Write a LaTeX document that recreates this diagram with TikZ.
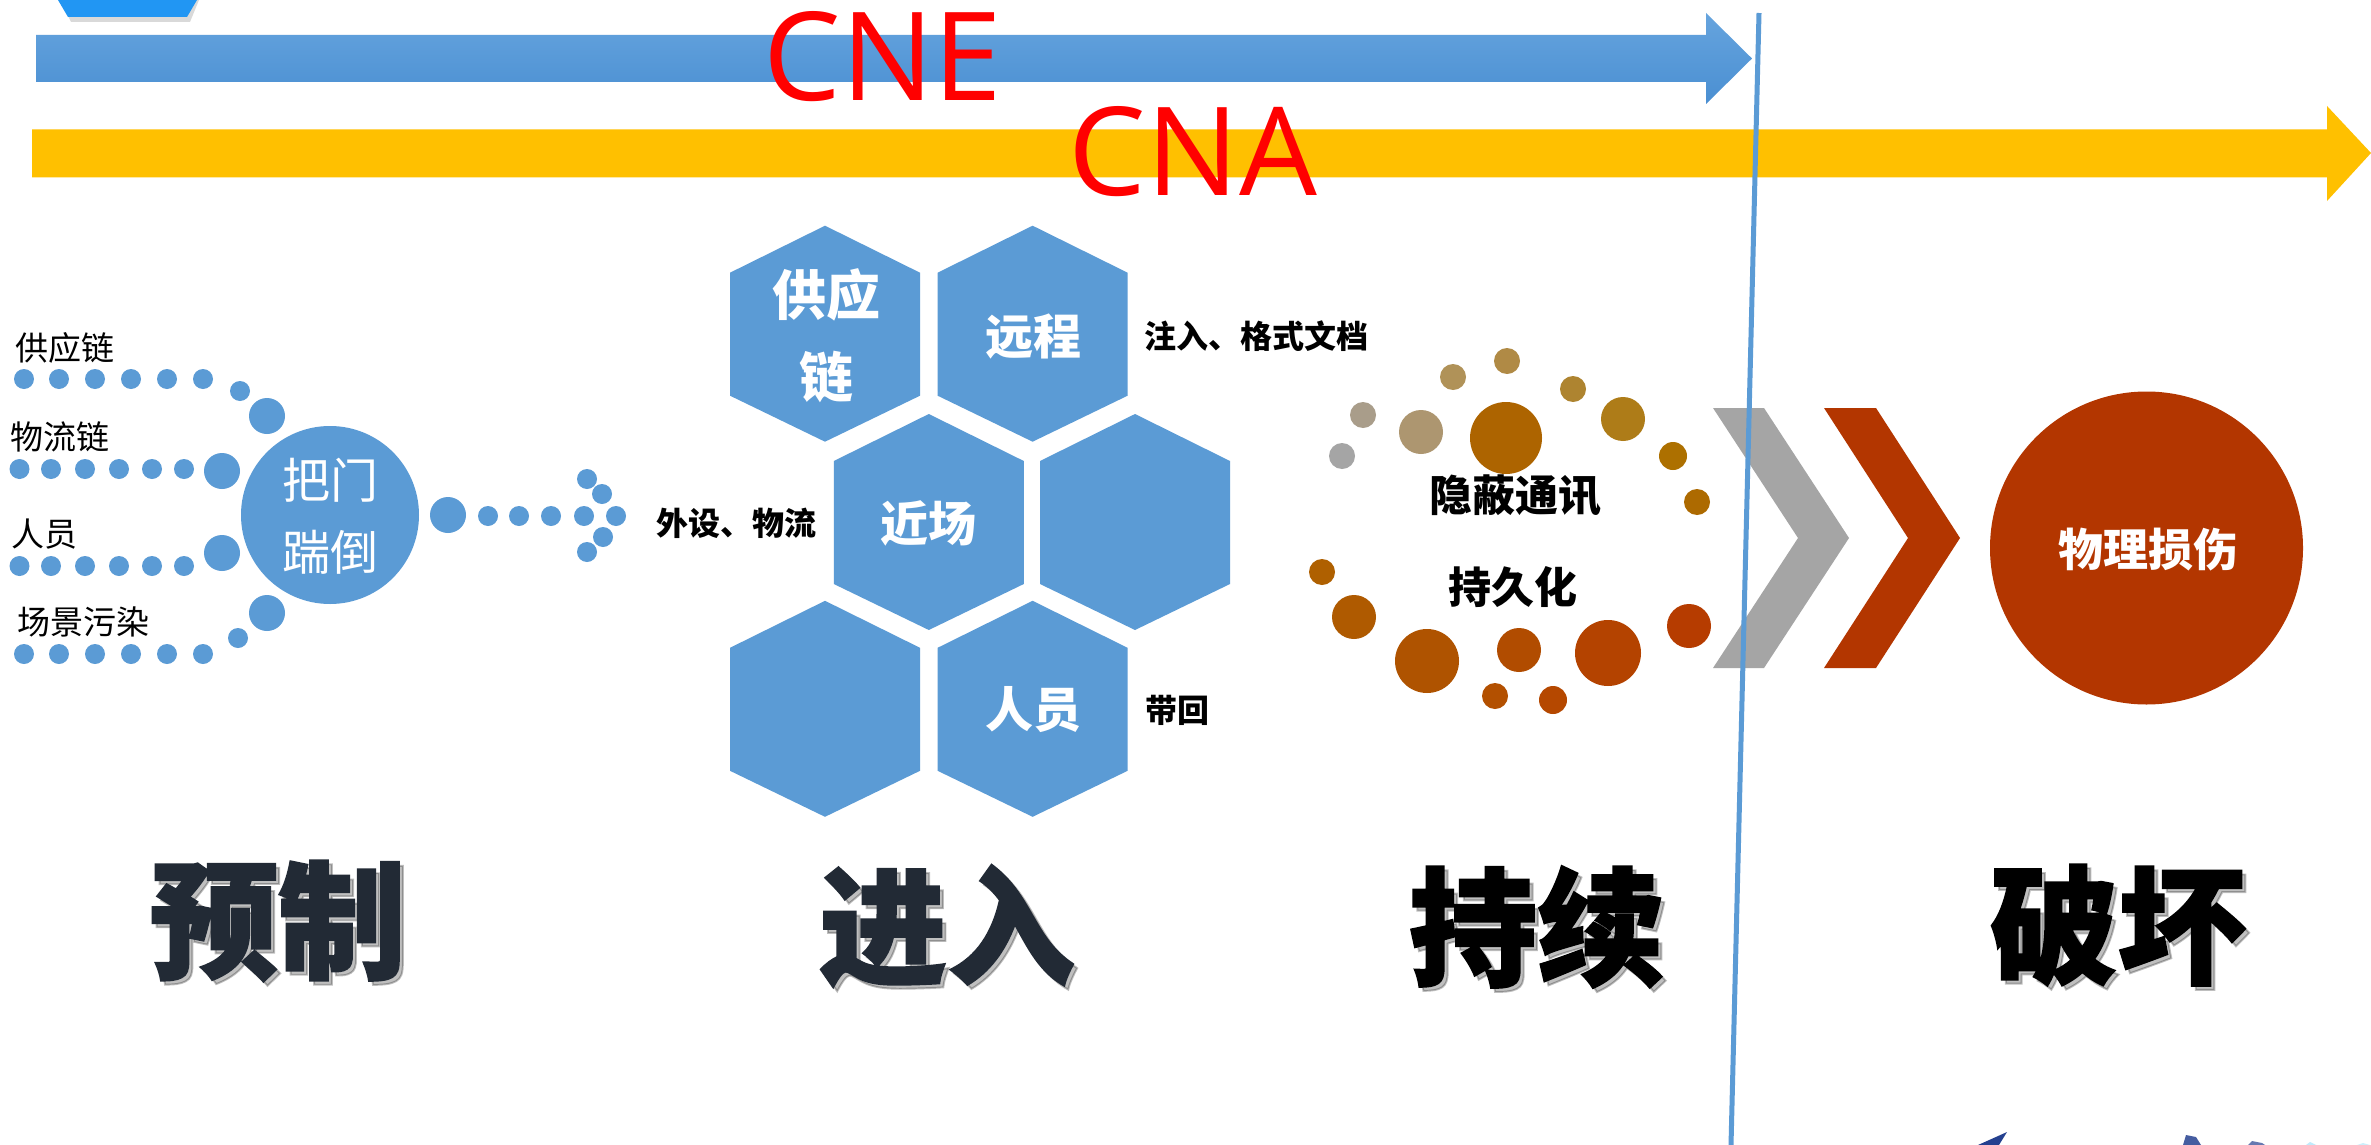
\documentclass[tikz,border=0pt]{standalone}
\usepackage{fontspec}
\newfontfamily\cjk{Noto Sans CJK SC}
\newfontfamily\cjkheavy[BoldFeatures={FakeBold=1.5}]{Noto Sans CJK SC}
\newfontfamily\latinf{Open Sans}
\definecolor{dblue}{HTML}{5B9BD5}
\definecolor{hexblue}{HTML}{5B9BD5}
\definecolor{atop}{HTML}{66A4DE}
\definecolor{abot}{HTML}{4A8FD2}
\definecolor{ayel}{HTML}{FFC000}
\definecolor{topblue}{HTML}{2196F3}
\definecolor{chgray}{HTML}{A5A5A5}
\definecolor{chred}{HTML}{B33600}
\definecolor{slate}{HTML}{222A35}
\definecolor{navy}{HTML}{24408F}
\begin{document}
\begin{tikzpicture}[x=1pt,y=-1pt,
  txt/.style={inner sep=0pt,outer sep=0pt,anchor=center},
  lbl/.style={txt,font=\cjk\fontsize{33}{40}\selectfont,text=black},
  hextxt/.style={txt,font=\cjk\bfseries\fontsize{48}{56}\selectfont,text=white,align=center},
  side/.style={txt,font=\cjk\bfseries\fontsize{32}{38}\selectfont,text=black},
  mid/.style={txt,font=\cjk\bfseries\fontsize{43}{50}\selectfont,text=black},
  big/.style={txt,font=\cjkheavy\bfseries\fontsize{128}{150}\selectfont},
  bigsh/.style={big,text=black,opacity=0.25},
  hexa/.pic={\fill[hexblue] (0,-108) -- (95,-61) -- (95,62) -- (0,108) -- (-95,62) -- (-95,-61) -- cycle;}
]
\useasboundingbox (0,0) rectangle (2371,1145);
\fill[white] (0,0) rectangle (2371,1145);

% top-left fragment
\fill[black,opacity=0.15] (60,0) -- (199,0) -- (190,22) -- (71,22) -- cycle;
\fill[topblue] (58,0) -- (197,0) -- (187,17) -- (68,17) -- cycle;

% arrows
\shade[top color=atop,bottom color=abot] (36,35) -- (1706,35) -- (1706,13) -- (1752,58.5) -- (1706,104) -- (1706,82) -- (36,82) -- cycle;
\fill[ayel] (32,129.3) -- (2327,129.3) -- (2327,106) -- (2371,153) -- (2327,201) -- (2327,177.3) -- (32,177.3) -- cycle;
\node[txt,font=\latinf\fontsize{123}{130}\selectfont,text=red] (cne) at (883,57) {CNE};
\node[txt,font=\latinf\fontsize{123}{130}\selectfont,text=red] (cna) at (1193,152) {CNA};

% left: feeds into the gate circle
\foreach \x in {24,59,95,131,167,203} {\fill[dblue] (\x,379) circle (10pt); \fill[dblue] (\x,654) circle (10pt);}
\foreach \x in {19.5,51,85,119,152,184} {\fill[dblue] (\x,469) circle (10pt); \fill[dblue] (\x,566) circle (10pt);}
\fill[dblue] (240,391) circle (10pt);
\fill[dblue] (238,638) circle (10pt);
\fill[dblue] (267,416) circle (18pt);
\fill[dblue] (267,613) circle (18pt);
\fill[dblue] (222,471) circle (18pt);
\fill[dblue] (222,553) circle (18pt);
\node[circle,fill=dblue,minimum size=178pt,inner sep=0pt] (gate) at (330,515) {};
\node[txt,font=\cjk\fontsize{48}{72}\selectfont,text=white,align=center] (gatetxt) at (330,516) {把门\\踹倒};
\fill[dblue] (448,515) circle (18pt);
\foreach \x in {488,519,551,584,616} {\fill[dblue] (\x,516) circle (10pt);}
\fill[dblue] (587,479) circle (10pt);
\fill[dblue] (602,494) circle (10pt);
\fill[dblue] (603,537) circle (10pt);
\fill[dblue] (587,552) circle (10pt);
\node[lbl,anchor=west] (l1) at (16,348) {供应链};
\node[lbl,anchor=west] (l2) at (10,437) {物流链};
\node[lbl,anchor=west] (l3) at (12,534) {人员};
\node[lbl,anchor=west] (l4) at (17,622) {场景污染};

% hexagons
\pic at (825,333.7) {hexa};
\pic at (1032.6,333.7) {hexa};
\pic at (928.8,522) {hexa};
\pic at (1135,522) {hexa};
\pic at (825,708.8) {hexa};
\pic at (1032.6,708.8) {hexa};
\node[hextxt,font=\cjk\bfseries\fontsize{54}{82}\selectfont] (h1) at (826,336) {供应\\链};
\node[hextxt] (h2) at (1033,337) {远程};
\node[hextxt] (h3) at (928,523) {近场};
\node[hextxt] (h6) at (1033,710) {人员};
\node[side,anchor=west] (s1) at (1144,336) {注入、格式文档};
\node[side,anchor=east] (s2) at (816,523) {外设、物流};
\node[side,anchor=west] (s3) at (1145,710) {带回};

% dot ring
\fill[fill=chgray] (1342,456) circle (13pt);
\fill[fill={rgb,255:red,169;green,157;blue,138}] (1363,415) circle (13pt);
\fill[fill={rgb,255:red,173;green,150;blue,112}] (1421,432) circle (22pt);
\fill[fill={rgb,255:red,176;green,146;blue,88}] (1453,377) circle (13pt);
\fill[fill={rgb,255:red,176;green,138;blue,69}] (1507,361) circle (13pt);
\fill[fill={rgb,255:red,173;green,100;blue,0}] (1506,438) circle (36pt);
\fill[fill={rgb,255:red,174;green,132;blue,48}] (1573,389) circle (13pt);
\fill[fill={rgb,255:red,174;green,124;blue,24}] (1623,419) circle (22pt);
\fill[fill={rgb,255:red,173;green,112;blue,0}] (1673,456) circle (14pt);
\fill[fill={rgb,255:red,173;green,106;blue,0}] (1697,502) circle (13pt);
\fill[fill={rgb,255:red,175;green,96;blue,0}] (1322,572) circle (13pt);
\fill[fill={rgb,255:red,175;green,90;blue,0}] (1354,617) circle (22pt);
\fill[fill={rgb,255:red,175;green,83;blue,0}] (1427,661) circle (32pt);
\fill[fill={rgb,255:red,177;green,76;blue,0}] (1519,650) circle (22pt);
\fill[fill={rgb,255:red,180;green,67;blue,0}] (1608,653) circle (33pt);
\fill[fill={rgb,255:red,182;green,60;blue,0}] (1689,626) circle (22pt);
\fill[fill={rgb,255:red,179;green,80;blue,0}] (1495,696) circle (13pt);
\fill[fill={rgb,255:red,181;green,72;blue,0}] (1553,700) circle (14pt);
\node[mid] (m1) at (1515,496) {隐蔽通讯};
\node[mid] (m2) at (1513,587) {持久化};

% chevrons
\fill[chgray] (1713,408) -- (1764,408) -- (1849,538) -- (1764,668) -- (1713,668) -- (1798,538) -- cycle;
\fill[chred] (1824,408) -- (1876,408) -- (1960,538) -- (1876,668) -- (1824,668) -- (1908,538) -- cycle;

% damage circle
\node[circle,fill=chred,minimum size=313pt,inner sep=0pt] (dmg) at (2146.5,548) {};
\node[txt,font=\cjk\bfseries\fontsize{45}{52}\selectfont,text=white] (dmgtxt) at (2148,550) {物理损伤};

% stage labels
\node[bigsh] at (282,925) {预制};
\node[big,text=slate] (p1) at (278,921) {预制};
\node[bigsh] at (951,930) {进入};
\node[big,text=slate] (p2) at (947,926) {进入};
\node[bigsh] at (1541,931) {持续};
\node[big,text=black] (p3) at (1537,927) {持续};
\node[bigsh] at (2122,929) {破坏};
\node[big,text=black] (p4) at (2118,925) {破坏};

% logo fragment bottom right
\fill[navy] (1978,1145) -- (2007,1132) -- (1999,1145) -- cycle;
\fill[navy!85!white] (2183,1145) -- (2186,1135) -- (2196,1137) -- (2201,1145) -- cycle;
\fill[navy!70!white] (2248,1145) -- (2252,1141) -- (2262,1143) -- (2265,1145) -- cycle;
\fill[cyan!25] (2306,1145) -- (2310,1142) -- (2316,1145) -- cycle;
\fill[cyan!20] (2357,1145) -- (2363,1143) -- (2370,1145) -- cycle;

% divider
\coordinate (dtop) at (1759,13);
\coordinate (dbot) at (1731,1145);
\draw[dblue,line width=5pt] (dtop) -- (dbot);
\end{tikzpicture}
\end{document}
